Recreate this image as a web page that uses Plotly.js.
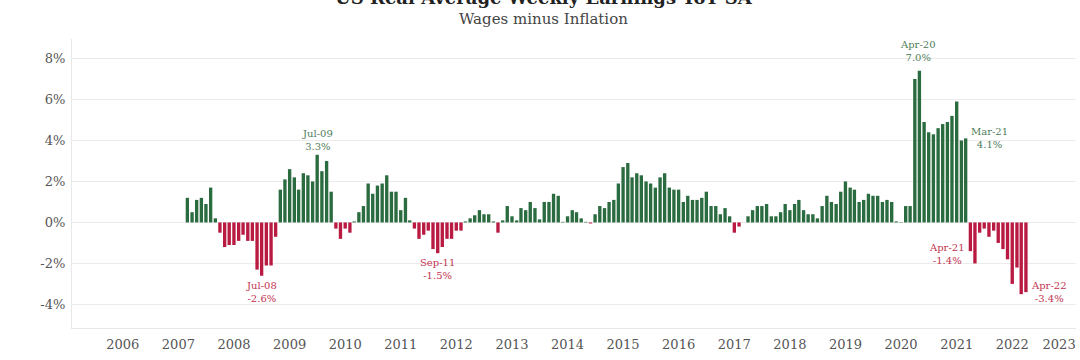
<!DOCTYPE html>
<html>
<head>
<meta charset="utf-8">
<script src="https://cdn.plot.ly/plotly-3.0.1.min.js"></script>
<style>
  html, body { margin: 0; padding: 0; background: #ffffff; }
  #chart { width: 1080px; height: 360px; }
</style>
</head>
<body>
<div id="chart"></div>
<script>
// ---- Data ----
const startYear = 2007;
const startMonth = 3; // first bar: Mar-2007

// Real average weekly earnings, YoY %, monthly from Mar-2007 to Apr-2022
const realWageYoY = [
  /* 2007 Mar-Dec */ 1.2, 0.5, 1.1, 1.2, 0.9, 1.7, 0.2, -0.5, -1.2, -1.1,
  /* 2008 */ -1.1, -0.9, -0.6, -0.9, -0.9, -2.3, -2.6, -2.1, -2.1, -0.7, 1.6, 2.1,
  /* 2009 */ 2.6, 2.2, 1.6, 2.4, 2.3, 2.0, 3.3, 2.5, 3.0, 1.5, -0.3, -0.8,
  /* 2010 */ -0.3, -0.5, 0.05, 0.5, 0.8, 1.9, 1.4, 1.8, 1.9, 2.3, 1.5, 1.5,
  /* 2011 */ 0.6, 1.2, 0.1, -0.3, -0.8, -0.6, -0.4, -1.3, -1.5, -1.2, -0.8, -0.8,
  /* 2012 */ -0.4, -0.4, 0.05, 0.2, 0.35, 0.6, 0.4, 0.4, 0.05, -0.5, 0.1, 0.8,
  /* 2013 */ 0.3, 0.1, 0.7, 0.6, 1.0, 0.7, 0.15, 1.0, 1.0, 1.4, 1.3, 0.03,
  /* 2014 */ 0.3, 0.6, 0.5, 0.2, 0.03, -0.05, 0.4, 0.8, 0.7, 1.0, 1.1, 1.9,
  /* 2015 */ 2.7, 2.9, 2.2, 2.4, 2.3, 2.0, 1.9, 1.7, 2.2, 2.4, 1.7, 1.6,
  /* 2016 */ 1.6, 1.0, 1.3, 1.1, 1.1, 1.2, 1.5, 0.8, 0.8, 0.4, 0.7, 0.3,
  /* 2017 */ -0.5, -0.2, 0.0, 0.3, 0.6, 0.8, 0.8, 0.9, 0.3, 0.3, 0.5, 0.9,
  /* 2018 */ 0.6, 0.9, 1.1, 0.6, 0.4, 0.4, 0.2, 0.8, 1.3, 1.0, 0.9, 1.5,
  /* 2019 */ 2.0, 1.7, 1.6, 1.0, 1.1, 1.4, 1.3, 1.3, 1.0, 1.1, 1.0, 0.05,
  /* 2020 */ 0.02, 0.8, 0.8, 7.0, 7.4, 4.9, 4.4, 4.3, 4.6, 4.8, 4.9, 5.2,
  /* 2021 */ 5.9, 4.0, 4.1, -1.4, -2.0, -0.5, -0.3, -0.7, -0.4, -1.0, -1.3, -1.8,
  /* 2022 Jan-Apr */ -3.0, -2.2, -3.5, -3.4
];

// Called-out months and their labels
const calloutMonths = ['2008-07-01', '2009-07-01', '2011-09-01', '2020-04-01', '2021-03-01', '2021-04-01', '2022-04-01'];
const calloutNames  = ['Jul-08', 'Jul-09', 'Sep-11', 'Apr-20', 'Mar-21', 'Apr-21', 'Apr-22'];

// Axis ticks
const yTickVals  = [-4, -2, 0, 2, 4, 6, 8];
const yTickText  = ['-4%', '-2%', '0%', '2%', '4%', '6%', '8%'];
const xTickYears = ['2006', '2007', '2008', '2009', '2010', '2011', '2012', '2013', '2014',
                    '2015', '2016', '2017', '2018', '2019', '2020', '2021', '2022', '2023'];

const titleText    = 'US Real Average Weekly Earnings YoY SA';
const subtitleText = 'Wages minus Inflation';

// ---- Build ----
const months = realWageYoY.map((_, i) => {
  const m = startMonth - 1 + i;
  const y = startYear + Math.floor(m / 12);
  const mm = (m % 12) + 1;
  return y + '-' + String(mm).padStart(2, '0') + '-01';
});

const GREEN = '#2b6b40';
const RED = '#b81a41';
const GREEN_TXT = '#4f7d5c';
const RED_TXT = '#c2334f';
const FONT = 'DejaVu Serif, Liberation Serif, serif';

const barColors = realWageYoY.map(v => v >= 0 ? GREEN : RED);
const DAY = 86400000;

const trace = {
  type: 'bar',
  x: months,
  y: realWageYoY,
  width: 22 * DAY,
  marker: { color: barColors, line: { width: 0 } },
  hoverinfo: 'x+y'
};

// Placement styles for each callout (same order as calloutMonths)
const placement = ['below', 'above', 'below', 'above', 'right', 'left', 'right'];

const annotations = calloutMonths.map((m, i) => {
  const v = realWageYoY[months.indexOf(m)];
  const txt = calloutNames[i] + '<br>' + v.toFixed(1) + '%';
  const a = {
    x: m, y: v, xref: 'x', yref: 'y', text: txt, showarrow: false,
    font: { family: FONT, size: 10, color: v >= 0 ? GREEN_TXT : RED_TXT },
    align: 'center'
  };
  const p = placement[i];
  if (p === 'above') { a.yanchor = 'bottom'; a.xanchor = 'center'; a.yshift = 1; }
  if (p === 'below') { a.yanchor = 'top'; a.xanchor = 'center'; a.yshift = -2; }
  if (p === 'right') { a.xanchor = 'left'; a.yanchor = 'middle'; a.xshift = 3; }
  if (p === 'left')  { a.xanchor = 'right'; a.yanchor = 'middle'; a.xshift = -3; a.yshift = -3; }
  if (calloutNames[i] === 'Apr-20') { a.yshift = 14; a.xshift = 3; }
  return a;
});

// Title and subtitle
annotations.push({
  xref: 'paper', yref: 'paper', x: 0.47, y: 1.1, xanchor: 'center', yanchor: 'bottom',
  text: '<b>' + titleText + '</b>', showarrow: false,
  font: { family: FONT, size: 18, color: '#222222' }
});
annotations.push({
  xref: 'paper', yref: 'paper', x: 0.47, y: 1.068, xanchor: 'center', yanchor: 'middle',
  text: subtitleText, showarrow: false,
  font: { family: FONT, size: 15, color: '#444444' }
});

// x tick positions: Jan 1st of each year; the last label is kept inside the frame
const xTickVals = xTickYears.map((y, i) => i === xTickYears.length - 1 ? '2022-11-05' : y + '-01-01');

const layout = {
  width: 1080, height: 360,
  margin: { l: 72, r: 4, t: 39, b: 32, pad: 0 },
  paper_bgcolor: '#ffffff', plot_bgcolor: '#ffffff',
  showlegend: false,
  bargap: 0.3,
  font: { family: FONT, size: 13, color: '#555555' },
  xaxis: {
    type: 'date',
    range: ['2005-02-01', '2023-02-24'],
    tickmode: 'array', tickvals: xTickVals, ticktext: xTickYears,
    showgrid: false, zeroline: false,
    showline: true, linecolor: '#e8e8e8', linewidth: 1,
    ticks: '', ticklabelstandoff: 4,
    tickfont: { family: FONT, size: 13, color: '#555555' },
    fixedrange: true
  },
  yaxis: {
    range: [-5.15, 8.95],
    tickmode: 'array', tickvals: yTickVals, ticktext: yTickText,
    showgrid: true, gridcolor: '#ebebeb', gridwidth: 1,
    zeroline: false,
    showline: true, linecolor: '#e8e8e8', linewidth: 1,
    ticks: '', ticklabelstandoff: 3,
    tickfont: { family: FONT, size: 13, color: '#555555' },
    fixedrange: true
  },
  annotations: annotations
};

Plotly.newPlot('chart', [trace], layout, { displayModeBar: false, staticPlot: true });
</script>
</body>
</html>
